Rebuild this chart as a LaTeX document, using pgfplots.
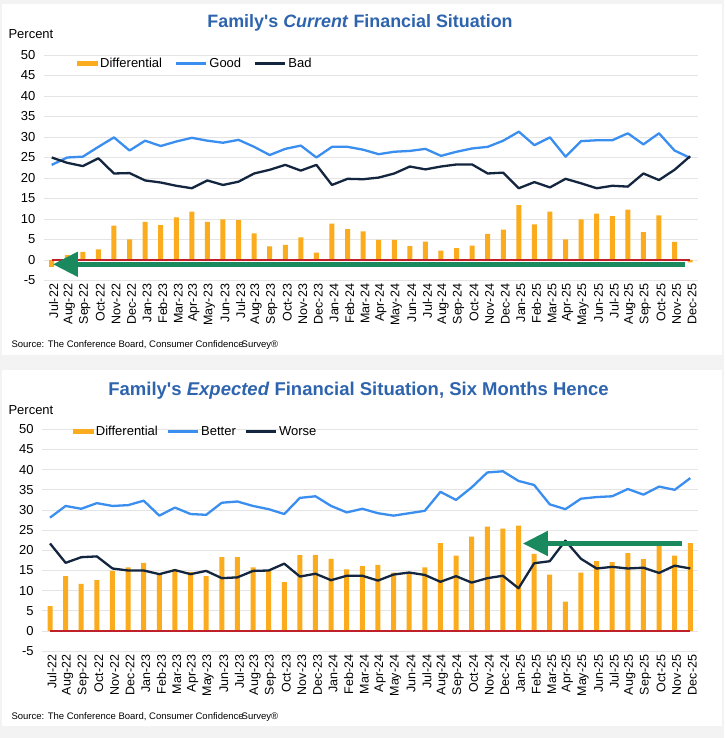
\documentclass[border=0pt]{standalone}
\usepackage{fontspec}
\setmainfont{Liberation Sans}[Ligatures=TeXOff]
\usepackage{pgfplots}
\usepackage{pgfplotstable}
\pgfplotsset{compat=1.18}
\usetikzlibrary{arrows.meta}

\definecolor{barorange}{HTML}{FBAC1E}
\definecolor{goodblue}{HTML}{3A8EF0}
\definecolor{badnavy}{HTML}{14263F}
\definecolor{zerored}{HTML}{C0202A}
\definecolor{arrowgreen}{HTML}{1A8A5E}
\definecolor{titleblue}{HTML}{2E64AE}
\definecolor{gridgray}{HTML}{E4E4E4}
\definecolor{bggray}{HTML}{F3F3F3}

% current situation: differential, good, bad
\pgfplotstableread{
x diff good bad
0 -1.7 23.2 25.0
1 1.2 25.0 23.7
2 2.0 25.2 22.9
3 2.6 27.6 24.8
4 8.4 29.9 21.1
5 5.0 26.7 21.2
6 9.3 29.1 19.4
7 8.5 27.8 18.9
8 10.4 28.9 18.1
9 11.8 29.8 17.5
10 9.3 29.1 19.4
11 9.9 28.6 18.3
12 9.7 29.3 19.1
13 6.5 27.6 21.1
14 3.3 25.6 22.0
15 3.7 27.1 23.2
16 5.5 27.9 21.8
17 1.8 25.0 23.2
18 8.9 27.6 18.3
19 7.5 27.6 19.8
20 7.0 26.9 19.7
21 4.9 25.8 20.1
22 4.9 26.4 21.1
23 3.4 26.6 22.8
24 4.5 27.1 22.1
25 2.3 25.4 22.8
26 2.9 26.4 23.3
27 3.5 27.2 23.3
28 6.4 27.6 21.1
29 7.4 29.1 21.3
30 13.4 31.3 17.5
31 8.7 28.0 19.0
32 11.8 29.9 17.7
33 5.0 25.2 19.8
34 9.9 29.0 18.7
35 11.3 29.2 17.5
36 10.7 29.2 18.1
37 12.3 30.9 17.9
38 6.8 28.2 21.1
39 10.9 30.9 19.5
40 4.4 26.7 22.0
41 -0.6 24.9 25.3
}\curtab

% expected situation: differential, better, worse
\pgfplotstableread{
x diff better worse
0 6.2 28.1 21.7
1 13.6 31.0 16.9
2 11.7 30.3 18.3
3 12.6 31.7 18.5
4 14.9 31.0 15.5
5 15.8 31.2 15.0
6 16.9 32.3 15.0
7 14.1 28.6 14.1
8 15.3 30.6 15.1
9 14.6 29.0 14.1
10 13.6 28.8 14.9
11 18.3 31.8 13.1
12 18.3 32.1 13.3
13 15.8 31.0 14.9
14 15.0 30.2 15.0
15 12.1 29.0 16.7
16 18.8 33.0 13.5
17 18.8 33.4 14.2
18 17.9 31.0 12.6
19 15.3 29.4 13.7
20 16.1 30.3 13.7
21 16.4 29.2 12.5
22 14.5 28.6 14.0
23 14.5 29.2 14.5
24 15.8 29.8 13.9
25 21.8 34.5 12.2
26 18.7 32.5 13.6
27 23.4 35.6 12.0
28 25.9 39.3 13.1
29 25.4 39.6 13.7
30 26.1 37.2 10.6
31 19.1 36.2 16.8
32 14.0 31.4 17.3
33 7.3 30.2 22.4
34 14.5 32.8 17.9
35 17.3 33.2 15.5
36 17.1 33.4 15.9
37 19.3 35.2 15.5
38 17.8 33.8 15.7
39 21.3 35.8 14.4
40 18.7 35.0 16.2
41 21.8 37.9 15.5
}\exptab

\pgfplotsset{
  famchart/.style={
    scale only axis,
    xmin=-0.5, xmax=41.5, ymin=-5, ymax=50,
    ytick={-5,0,...,50},
    xtick={0,...,41},
    xticklabels={Jul-22,Aug-22,Sep-22,Oct-22,Nov-22,Dec-22,
      Jan-23,Feb-23,Mar-23,Apr-23,May-23,Jun-23,Jul-23,Aug-23,Sep-23,Oct-23,Nov-23,Dec-23,
      Jan-24,Feb-24,Mar-24,Apr-24,May-24,Jun-24,Jul-24,Aug-24,Sep-24,Oct-24,Nov-24,Dec-24,
      Jan-25,Feb-25,Mar-25,Apr-25,May-25,Jun-25,Jul-25,Aug-25,Sep-25,Oct-25,Nov-25,Dec-25},
    x tick label style={rotate=90, anchor=east, font=\fontsize{12.5}{12.5}\selectfont, yshift=-2pt},
    y tick label style={font=\fontsize{13}{13}\selectfont, xshift=-5pt},
    /pgf/number format/assume math mode=true,
    ymajorgrids,
    grid style={gridgray, line width=0.9pt},
    axis line style={draw=none},
    major tick length=0pt,
    legend style={draw=none, fill=none, anchor=west, legend columns=-1,
      font=\fontsize{13}{15}\selectfont},
    legend cell align=left,
  },
  diffbar/.style={ybar, bar width=5pt, bar shift=0pt, fill=barorange, draw=none,
    legend image code/.code={\fill[barorange] (0pt,-2.8pt) rectangle (21pt,2.8pt);}},
  linekey/.style={line width=2.3pt, line join=round,
    legend image code/.code={\draw[#1, line width=2.3pt] (0pt,0pt) -- (24pt,0pt);
      \path (0pt,0pt) -- (30pt,0pt);}},
}

\begin{document}
\begin{tikzpicture}[x=1pt,y=1pt]
\useasboundingbox (0,0) rectangle (724,738);
\fill[bggray] (0,0) rectangle (724,738);
\fill[white] (2,383) rectangle (722,734);
\fill[white] (2,12) rectangle (722,368);

% top panel
\node[titleblue, font=\fontsize{17.9}{20}\selectfont\bfseries] at (360,715)
  {Family's \textit{Current} Financial Situation};
\node[anchor=west, font=\fontsize{13}{15}\selectfont] at (5,704) {Percent};
\node[anchor=west, font=\fontsize{9.5}{11}\selectfont] at (8,393)
  {Source: The Conference Board, Consumer Confidence\kern-2pt Survey®};

\begin{axis}[famchart, at={(43.9pt,457.5pt)}, anchor=south west,
  width=654pt, height=225.5pt,
  legend style={at={(0.046,0.962)},
    /tikz/every even column/.append style={column sep=11pt}}]
\addplot[diffbar] table[x=x, y=diff] {\curtab};
\addlegendentry{Differential}
\addplot[zerored, line width=2.5pt, forget plot] coordinates {(0,0) (41,0)};
\addplot[goodblue, linekey=goodblue] table[x=x, y=good] {\curtab};
\addlegendentry{Good}
\addplot[badnavy, linekey=badnavy] table[x=x, y=bad] {\curtab};
\addlegendentry{Bad}
\draw[arrowgreen, line width=5pt, -{Triangle[length=25pt, width=24pt]}]
  (axis cs:40.67,-1.05) -- (axis cs:0.08,-1.05);
\end{axis}

% bottom panel
\node[titleblue, font=\fontsize{18.5}{21}\selectfont\bfseries] at (358.5,347)
  {Family's \textit{Expected} Financial Situation, Six Months Hence};
\node[anchor=west, font=\fontsize{13}{15}\selectfont] at (5,328) {Percent};
\node[anchor=west, font=\fontsize{9.5}{11}\selectfont] at (8,21)
  {Source: The Conference Board, Consumer Confidence\kern-2pt Survey®};

\begin{axis}[famchart, at={(42.2pt,86.8pt)}, anchor=south west,
  width=655.9pt, height=221.9pt,
  legend style={at={(0.042,0.99)},
    /tikz/every even column/.append style={column sep=7pt}}]
\addplot[diffbar] table[x=x, y=diff] {\exptab};
\addlegendentry{Differential}
\addplot[zerored, line width=2.5pt, forget plot] coordinates {(0,0) (41,0)};
\addplot[goodblue, linekey=goodblue] table[x=x, y=better] {\exptab};
\addlegendentry{Better}
\addplot[badnavy, linekey=badnavy] table[x=x, y=worse] {\exptab};
\addlegendentry{Worse}
\draw[arrowgreen, line width=5pt, -{Triangle[length=25pt, width=24pt]}]
  (axis cs:40.46,21.7) -- (axis cs:30.28,21.7);
\end{axis}
\end{tikzpicture}
\end{document}
